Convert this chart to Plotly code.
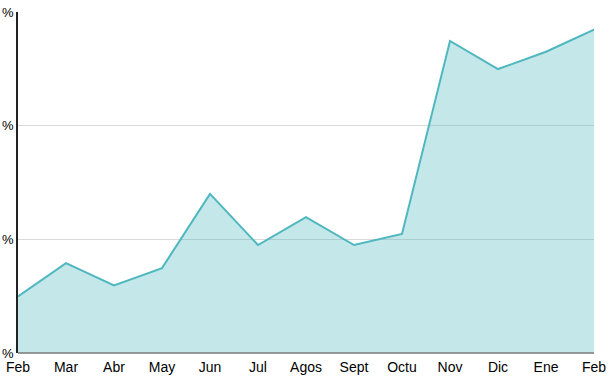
import plotly.graph_objects as go

months = ["Feb", "Mar", "Abr", "May", "Jun", "Jul", "Agos", "Sept", "Octu", "Nov", "Dic", "Ene", "Feb"]
values = [4.98, 7.9, 5.95, 7.47, 14.0, 9.5, 11.95, 9.5, 10.48, 27.45, 24.98, 26.5, 28.45]
y_ticks = [0, 10, 20, 30]
y_ticktext = ["%", "%", "%", "%"]

x_idx = list(range(len(months)))

fig = go.Figure()
fig.add_trace(go.Scatter(
    x=x_idx, y=values, mode="lines",
    line=dict(color="#4fb7bf", width=2),
    fill="tozeroy", fillcolor="rgba(77,184,191,0.33)",
    hoverinfo="skip",
))

tick_font = dict(family="Liberation Sans, Arial, sans-serif", size=14, color="black")
y_font = dict(family="Liberation Sans, Arial, sans-serif", size=13, color="black")

fig.update_layout(
    width=610, height=376,
    margin=dict(l=18, r=16, t=12, b=23),
    paper_bgcolor="white", plot_bgcolor="white",
    showlegend=False,
    font=tick_font,
    xaxis=dict(
        range=[0, 12], tickmode="array", tickvals=x_idx, ticktext=months,
        showgrid=False, zeroline=False, showline=False, ticks="",
        ticklabelstandoff=4, automargin=False, tickfont=tick_font,
    ),
    yaxis=dict(
        range=[0, 30], tickmode="array", tickvals=y_ticks, ticktext=y_ticktext,
        showgrid=True, gridcolor="#d9d9d9", gridwidth=1,
        zeroline=False, showline=True, linecolor="#222222", linewidth=1.5,
        ticks="", ticklabelstandoff=0, automargin=False, tickfont=y_font,
    ),
)
fig.add_shape(type="line", xref="paper", yref="paper", x0=0, x1=1, y0=0, y1=0,
              line=dict(color="#7a7a7a", width=1.5), layer="above")

fig.write_html("out.html")
